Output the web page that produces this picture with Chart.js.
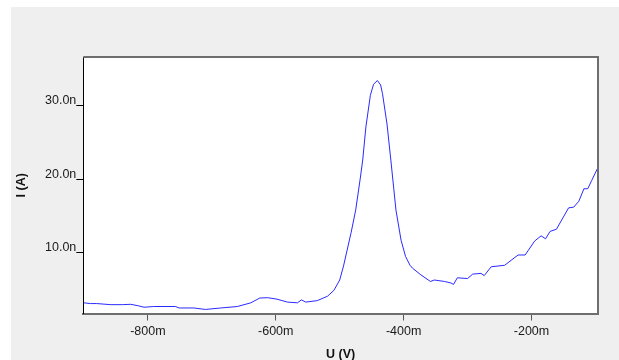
<!DOCTYPE html>
<html>
<head>
<meta charset="utf-8">
<script src="https://cdn.jsdelivr.net/npm/chart.js@4"></script>
<style>
  html, body { margin: 0; padding: 0; background: #fff; width: 619px; height: 360px; overflow: hidden; }
  #panel { position: absolute; left: 11px; top: 7px; width: 608px; height: 353px; background: #efefef; }
  canvas { display: block; }
</style>
</head>
<body>
<div id="panel"><canvas id="chart" width="608" height="353"></canvas></div>
<script>
// voltage in mV, current in nA
const voltage = [
  -900, -890, -880, -858, -840, -827, -815, -806, -791, -757, -751, -728, -710, -686, -660,
  -639, -625, -613, -598, -582, -566, -560, -553, -535, -519, -509, -500, -494, -488, -482,
  -475, -468, -464, -459, -452, -447, -441, -436, -433, -426, -420, -412, -404, -397, -390,
  -386, -373, -358, -352, -336, -326, -322, -316, -300, -292, -279, -274, -263, -242, -221,
  -210, -195, -185, -178, -171, -161, -142, -134, -126, -118, -112, -106, -96
];
const current = [
  3.2, 3.1, 3.1, 2.95, 2.95, 3.0, 2.8, 2.6, 2.7, 2.7, 2.5, 2.5, 2.3, 2.5, 2.7,
  3.2, 3.85, 3.9, 3.7, 3.3, 3.2, 3.6, 3.3, 3.5, 4.1, 4.9, 6.3, 8.2, 10.5, 12.8,
  15.8, 20.0, 22.6, 27.1, 31.4, 32.9, 33.4, 32.8, 31.6, 27.5, 22.6, 15.8, 11.7, 9.5, 8.3,
  7.9, 7.0, 6.1, 6.3, 6.1, 5.9, 5.7, 6.6, 6.5, 7.1, 7.2, 6.9, 8.1, 8.3, 9.7,
  9.7, 11.6, 12.3, 11.9, 12.9, 13.2, 16.1, 16.2, 17.0, 18.7, 18.7, 19.8, 21.6
];
const xTicks = [-800, -600, -400, -200];
const yTicks = [10, 20, 30];

const points = voltage.map((v, i) => ({ x: v, y: current[i] }));

// top and right edges of the plot frame
const framePlugin = {
  id: 'frame',
  afterDraw(chart) {
    const { ctx, chartArea: a } = chart;
    ctx.save();
    ctx.strokeStyle = '#6e6e6e';
    ctx.lineWidth = 2;
    ctx.beginPath();
    ctx.moveTo(a.left, a.top);
    ctx.lineTo(a.right, a.top);
    ctx.lineTo(a.right, a.bottom);
    ctx.stroke();
    ctx.restore();
  }
};

const whiteArea = {
  id: 'whiteArea',
  beforeDraw(chart) {
    const { ctx, chartArea: a } = chart;
    ctx.save();
    ctx.fillStyle = '#fff';
    ctx.fillRect(a.left, a.top, a.right - a.left, a.bottom - a.top);
    ctx.restore();
  }
};

const font = { family: '"Liberation Sans", Arial, sans-serif', size: 12.5 };

new Chart(document.getElementById('chart'), {
  type: 'line',
  data: {
    datasets: [{
      data: points,
      borderColor: '#2a2aff',
      borderWidth: 1,
      pointRadius: 0,
      tension: 0,
      fill: false
    }]
  },
  options: {
    responsive: false,
    animation: false,
    layout: { padding: { top: 50, right: 21, left: 0, bottom: 0 } },
    plugins: { legend: { display: false }, tooltip: { enabled: false } },
    scales: {
      x: {
        type: 'linear',
        min: -901,
        max: -96,
        afterBuildTicks: (s) => { s.ticks = xTicks.map(v => ({ value: v })); },
        afterFit: (s) => { s.height = 46.5; },
        grid: { drawOnChartArea: false, drawTicks: true, tickLength: 7, color: '#555' },
        border: { color: '#6e6e6e', width: 2 },
        ticks: {
          font, color: '#1a1a1a', padding: 4, maxRotation: 0,
          callback: (v) => v + 'm'
        },
        title: {
          display: true, text: 'U (V)', color: '#111',
          font: { family: font.family, size: 12.5, weight: 'bold' },
          padding: { top: 0, bottom: -2 }
        }
      },
      y: {
        type: 'linear',
        min: 1.75,
        max: 36.6,
        afterBuildTicks: (s) => { s.ticks = yTicks.map(v => ({ value: v })); },
        afterFit: (s) => { s.width = 72.3; },
        grid: { drawOnChartArea: false, drawTicks: true, tickLength: 7, color: '#000' },
        border: { color: '#000', width: 1 },
        ticks: {
          font, color: '#1a1a1a', padding: 0, labelOffset: -5,
          callback: (v) => v.toFixed(1) + 'n'
        },
        title: {
          display: true, text: 'I (A)', color: '#111',
          font: { family: font.family, size: 12.5, weight: 'bold' },
          padding: { top: 3, bottom: 0 }
        }
      }
    }
  },
  plugins: [whiteArea, framePlugin]
});
</script>
</body>
</html>
